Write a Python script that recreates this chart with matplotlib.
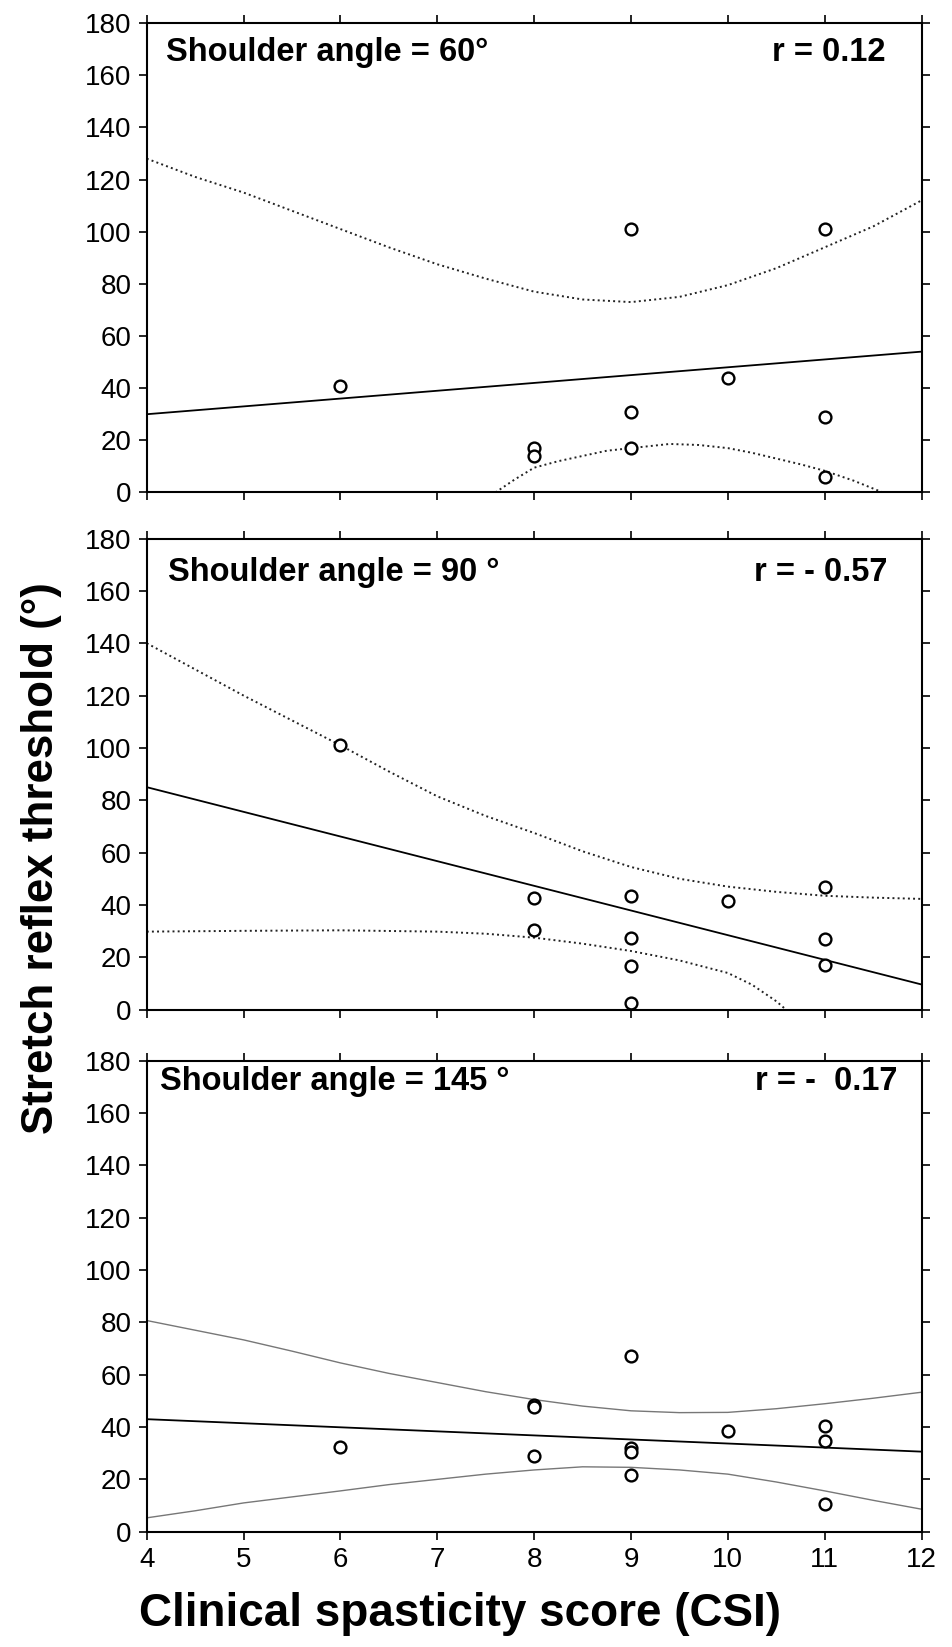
import matplotlib
matplotlib.use('Agg')
import matplotlib.pyplot as plt
import numpy as np

plt.rcParams['font.family'] = ['Liberation Sans', 'DejaVu Sans']

# panel 1: shoulder angle 60
p1_x = [6, 8, 8, 9, 9, 9, 10, 11, 11, 11]
p1_y = [41, 17, 14, 101, 31, 17, 44, 101, 29, 6]
p1_fit_x = [4, 12]
p1_fit_y = [30, 54]
p1_up_x = [4, 4.5, 5, 5.5, 6, 6.5, 7, 7.5, 8, 8.5, 9, 9.5, 10, 10.5, 11, 11.5, 12]
p1_up_y = [128, 121, 115, 108, 101, 94, 87.5, 82, 77, 74, 73, 75, 79.5, 86, 94, 102, 112]
p1_lo_x = [7.6, 7.8, 8, 8.25, 8.5, 8.75, 9, 9.4, 9.7, 10, 10.25, 10.5, 10.75, 11, 11.3, 11.6]
p1_lo_y = [0, 5, 9.5, 12, 14, 16, 17, 18.6, 18.2, 17, 15.2, 13, 10.8, 8.3, 4.5, 0]

# panel 2: shoulder angle 90
p2_x = [6, 8, 8, 9, 9, 9, 9, 10, 11, 11, 11]
p2_y = [101, 42.5, 30.5, 43.5, 27.5, 16.5, 2.5, 41.5, 47, 27, 17]
p2_fit_x = [4, 12]
p2_fit_y = [85, 9.6]
p2_up_x = [4, 4.5, 5, 5.5, 6, 6.5, 7, 7.5, 8, 8.5, 9, 9.5, 10, 10.5, 11, 11.5, 12]
p2_up_y = [140, 130, 120, 110.5, 101, 91, 81.5, 74, 67.5, 60.5, 54.5, 50, 47, 45, 43.5, 42.8, 42.3]
p2_lo_x = [4, 5, 6, 7, 7.5, 8, 8.5, 9, 9.5, 10, 10.25, 10.5, 10.6]
p2_lo_y = [29.8, 30.1, 30.3, 29.8, 29, 27.5, 25.2, 22.4, 18.8, 14, 9.5, 3.2, 0]

# panel 3: shoulder angle 145
p3_x = [6, 8, 8, 8, 9, 9, 9, 9, 10, 11, 11, 11]
p3_y = [32.5, 48.5, 47.5, 28.8, 67, 32, 30.5, 21.5, 38.3, 40.5, 34.6, 10.5]
p3_fit_x = [4, 12]
p3_fit_y = [43, 30.6]
p3_up_x = [4, 4.5, 5, 5.5, 6, 6.5, 7, 7.5, 8, 8.5, 9, 9.5, 10, 10.5, 11, 11.5, 12]
p3_up_y = [80.7, 77, 73.3, 69, 64.5, 60.5, 57, 53.5, 50.5, 48, 46.2, 45.5, 45.6, 47, 48.9, 51, 53.3]
p3_lo_x = [4, 4.5, 5, 5.5, 6, 6.5, 7, 7.5, 8, 8.5, 9, 9.5, 10, 10.5, 11, 11.5, 12]
p3_lo_y = [5.3, 8, 11, 13.3, 15.6, 18, 20, 22, 23.6, 24.8, 24.6, 23.6, 22, 19, 15.6, 12, 8.6]

titles = ['Shoulder angle = 60\u00b0', 'Shoulder angle = 90 \u00b0', 'Shoulder angle = 145 \u00b0']
r_texts = ['r = 0.12', 'r = - 0.57', 'r = -  0.17']

panels = [
    (p1_x, p1_y, p1_fit_x, p1_fit_y, p1_up_x, p1_up_y, p1_lo_x, p1_lo_y),
    (p2_x, p2_y, p2_fit_x, p2_fit_y, p2_up_x, p2_up_y, p2_lo_x, p2_lo_y),
    (p3_x, p3_y, p3_fit_x, p3_fit_y, p3_up_x, p3_up_y, p3_lo_x, p3_lo_y),
]

fig = plt.figure(figsize=(9.53, 16.47), dpi=100)
boxes = [[0.154, 0.701, 0.813, 0.285],
         [0.154, 0.387, 0.813, 0.286],
         [0.154, 0.070, 0.813, 0.286]]
title_pos = [(0.025, 0.938), (0.027, 0.928), (0.017, 0.955)]
r_pos = [0.953, 0.956, 0.969]

for i, (px, py, fx, fy, ux, uy, lx, ly) in enumerate(panels):
    ax = fig.add_axes(boxes[i])
    if i < 2:
        ax.plot(ux, uy, ':', color='#222222', lw=1.4)
        ax.plot(lx, ly, ':', color='#222222', lw=1.4)
    else:
        ax.plot(ux, uy, '-', color='#777777', lw=1.0)
        ax.plot(lx, ly, '-', color='#777777', lw=1.0)
    ax.plot(fx, fy, '-', color='black', lw=1.3)
    ax.plot(px, py, 'o', mfc='white', mec='black', mew=1.7, ms=8.5, ls='none')

    ax.set_xlim(4, 12)
    ax.set_ylim(0, 180)
    ax.set_yticks(np.arange(0, 181, 20))
    ax.set_xticks(np.arange(4, 13, 1))
    ax.tick_params(axis='both', labelsize=20, length=6, width=1.2, direction='out', pad=5)
    ax.tick_params(top=True, right=True, which='both')
    if i < 2:
        ax.set_xticklabels([])
    for sp in ax.spines.values():
        sp.set_linewidth(1.5)

    ax.text(title_pos[i][0], title_pos[i][1], titles[i], transform=ax.transAxes,
            fontsize=23.5, fontweight='bold', ha='left', va='center')
    ax.text(r_pos[i], title_pos[i][1], r_texts[i], transform=ax.transAxes,
            fontsize=23.5, fontweight='bold', ha='right', va='center')

fig.text(0.044, 0.479, 'Stretch reflex threshold (\u00b0)', rotation=90,
         fontsize=31.6, fontweight='bold', ha='center', va='center')
fig.text(0.483, 0.020, 'Clinical spasticity score (CSI)',
         fontsize=33, fontweight='bold', ha='center', va='center')

fig.savefig('out.png', dpi=100)
